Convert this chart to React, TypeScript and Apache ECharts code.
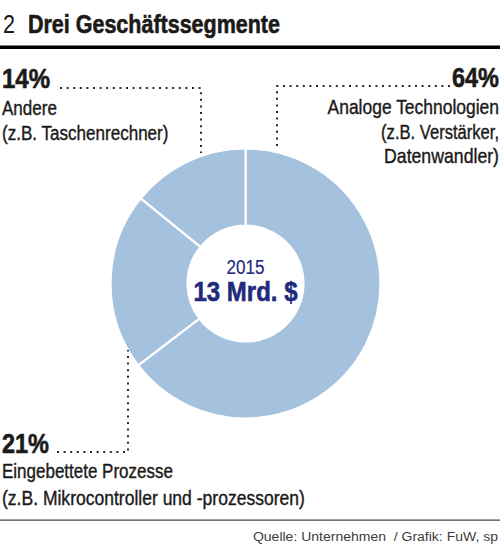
import { useEffect, useRef } from "react";
import * as echarts from "echarts";

const SEGMENTS = ["Analoge Technologien", "Eingebettete Prozesse", "Andere"];
const SHARES = [64, 21, 14];
const SHARE_LABELS = ["64%", "21%", "14%"];
const SUBLINES = [
  ["Analoge Technologien", "(z.B. Verstärker,", "Datenwandler)"],
  ["Eingebettete Prozesse", "(z.B. Mikrocontroller und -prozessoren)"],
  ["Andere", "(z.B. Taschenrechner)"],
];
const YEAR = "2015";
const TOTAL = "13 Mrd. $";

const FAMILY = '"Liberation Sans", Arial, sans-serif';
const INK = "#1c1a19";
const NAVY = "#1f2a7c";
const BLUE = "#a4c1de";

// the reference uses a condensed face; squeeze Liberation Sans to the widths seen there
let ctx: CanvasRenderingContext2D | null = null;
function fit(text: string, font: string, target?: number) {
  if (!target) return 1;
  if (!ctx) ctx = document.createElement("canvas").getContext("2d");
  if (!ctx) return 1;
  ctx.font = font;
  const w = ctx.measureText(text).width;
  return w > 0 ? target / w : 1;
}

type Txt = {
  x: number;
  y: number;
  text: string;
  size: number;
  w?: number;
  bold?: boolean;
  align?: "left" | "right" | "center";
  color?: string;
  heavy?: number;
};

function txt(t: Txt) {
  const font = `${t.bold ? "bold " : ""}${t.size}px ${FAMILY}`;
  const color = t.color ?? INK;
  return {
    type: "text",
    x: t.x,
    y: t.y,
    z: 100,
    scaleX: fit(t.text, font, t.w),
    silent: true,
    style: {
      text: t.text,
      fill: color,
      stroke: color,
      lineWidth: t.heavy ?? 0.4,
      font,
      textAlign: t.align ?? "left",
      textVerticalAlign: "middle",
    },
  };
}

function dots(points: number[][]) {
  return {
    type: "polyline",
    z: 100,
    silent: true,
    shape: { points },
    style: { stroke: "#2a2a2a", lineWidth: 2, lineDash: [2, 4.6], fill: "none" },
  };
}

export default function App() {
  const ref = useRef<HTMLDivElement>(null);

  useEffect(() => {
    if (!ref.current) return;
    const chart = echarts.init(ref.current, undefined, { renderer: "svg" });

    const graphic = [
      // title
      txt({ x: 3, y: 24.5, text: "2", size: 25, w: 12, heavy: 0 }),
      txt({ x: 28, y: 24, text: "Drei Geschäftssegmente", size: 25, bold: true, w: 252, heavy: 0.6 }),
      { type: "rect", z: 100, silent: true, shape: { x: 0, y: 45.5, width: 500, height: 3.5 }, style: { fill: "#000" } },

      // 14% (Andere)
      txt({ x: 2, y: 78, text: SHARE_LABELS[2], size: 27, bold: true, w: 48, heavy: 0.6 }),
      txt({ x: 2, y: 107.5, text: SUBLINES[2][0], size: 21, w: 55 }),
      txt({ x: 2, y: 132.5, text: SUBLINES[2][1], size: 21, w: 167 }),
      dots([[60, 88], [201, 88], [201, 153]]),

      // 64% (Analoge Technologien)
      txt({ x: 499, y: 77, text: SHARE_LABELS[0], size: 27, bold: true, align: "right", w: 47, heavy: 0.6 }),
      txt({ x: 499, y: 107, text: SUBLINES[0][0], size: 21, align: "right", w: 172 }),
      txt({ x: 499, y: 131.5, text: SUBLINES[0][1], size: 21, align: "right", w: 118 }),
      txt({ x: 499, y: 155.5, text: SUBLINES[0][2], size: 21, align: "right", w: 115 }),
      dots([[450, 86], [277, 86], [277, 147]]),

      // 21% (Eingebettete Prozesse)
      txt({ x: 2, y: 443, text: SHARE_LABELS[1], size: 27, bold: true, w: 47, heavy: 0.6 }),
      txt({ x: 2, y: 470.5, text: SUBLINES[1][0], size: 21, w: 171 }),
      txt({ x: 2, y: 497, text: SUBLINES[1][1], size: 21, w: 303 }),
      dots([[57, 452], [128, 452], [128, 350]]),

      // centre
      txt({ x: 245.5, y: 267, text: YEAR, size: 19.5, align: "center", color: NAVY, w: 38, heavy: 0.2 }),
      txt({ x: 245.5, y: 291, text: TOTAL, size: 28, bold: true, align: "center", color: NAVY, w: 104, heavy: 0.6 }),

      // footer
      { type: "rect", z: 100, silent: true, shape: { x: 0, y: 519.5, width: 500, height: 1.2 }, style: { fill: "#444" } },
      txt({ x: 498, y: 536.5, text: "Quelle: Unternehmen  / Grafik: FuW, sp", size: 13.5, align: "right", color: "#3c3c3c", w: 245, heavy: 0 }),
    ];

    chart.setOption({
      animation: false,
      backgroundColor: "#fff",
      series: [
        {
          type: "pie",
          center: [245.5, 283.5],
          radius: [58, 135],
          startAngle: 90,
          clockwise: true,
          label: { show: false },
          labelLine: { show: false },
          emphasis: { disabled: true },
          itemStyle: { color: BLUE, borderColor: "#fff", borderWidth: 2.2 },
          data: SEGMENTS.map((name, i) => ({ name, value: SHARES[i] })),
        },
      ],
      graphic,
    });

    return () => chart.dispose();
  }, []);

  return (
    <div
      ref={ref}
      style={{ position: "fixed", left: 0, top: 0, width: "500px", height: "545px" }}
    />
  );
}
